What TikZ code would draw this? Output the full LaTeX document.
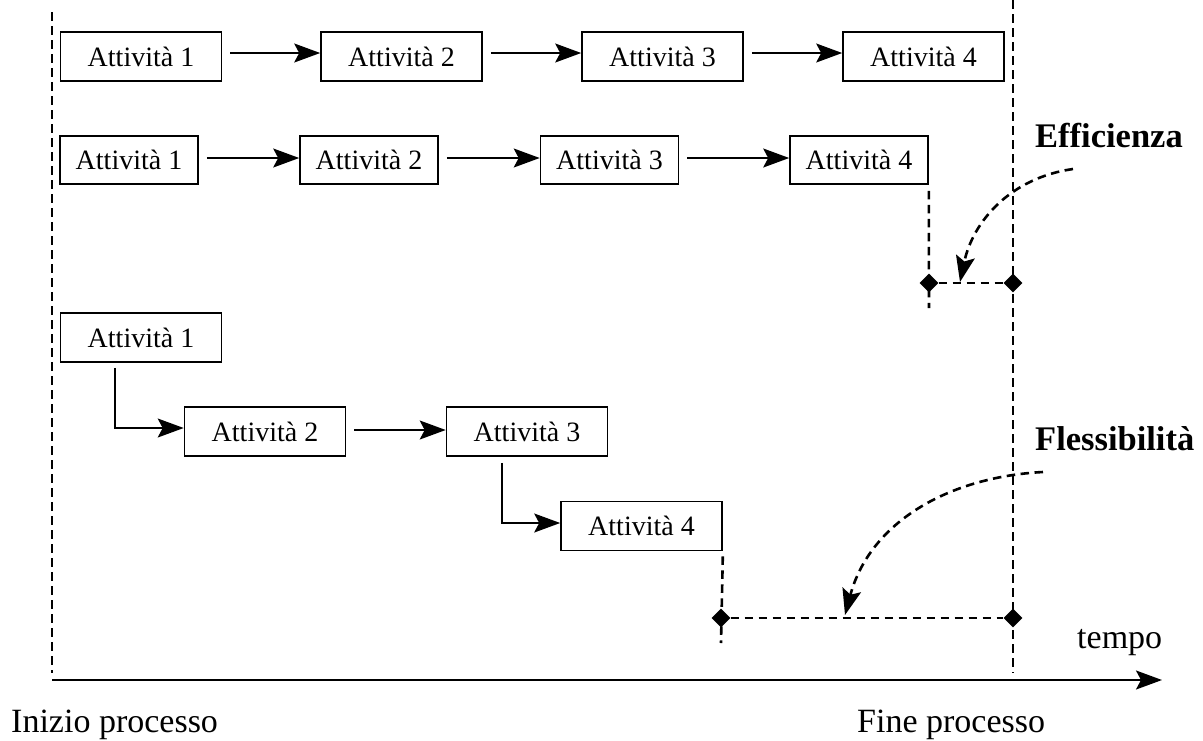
\documentclass[tikz,border=0pt]{standalone}
\usepackage{fontspec}
\setmainfont{Liberation Serif}
\usetikzlibrary{arrows.meta,shapes.geometric}
\begin{document}
\begin{tikzpicture}[x=1pt,y=-1pt,
  act/.style={draw, line width=1.6pt, inner sep=0pt, minimum height=49pt, font=\fontsize{28}{32}\selectfont},
  wide/.style={act, minimum width=161pt},
  narrow/.style={act, minimum width=138pt, minimum height=48pt},
  tip/.style={-{Stealth[length=26pt,width=19pt,inset=5pt]}},
  flow/.style={line width=1.6pt, tip},
  gap/.style={shorten <=8pt},
  dline/.style={line width=2.6pt, dash pattern=on 8.5pt off 5.5pt},
  dmd/.style={diamond, fill=black, inner sep=0pt, minimum size=19pt},
  lbl/.style={inner sep=0pt, anchor=base west, font=\fontsize{34}{40}\selectfont},
  blbl/.style={inner sep=0pt, anchor=base west, font=\fontsize{34.5}{40}\selectfont\bfseries}
]
\useasboundingbox (0,0) rectangle (1203,740);

% time boundaries
\coordinate (itop) at (52,12);
\coordinate (ibot) at (52,673);
\coordinate (ftop) at (1013,0);
\coordinate (fbot) at (1013,673);
\draw[dline] (itop) -- (ibot);
\draw[dline] (ftop) -- (fbot);

% time axis
\coordinate (ax0) at (52,680);
\coordinate (ax1) at (1162,680);
\draw[flow] (ax0) -- (ax1);
\node[lbl] (tempo) at (1077,648) {tempo};
\node[lbl] (inizio) at (11,732) {Inizio processo};
\node[lbl] (fine) at (857,732) {Fine processo};

% row 1
\node[wide] (r1a) at (141,56.5) {Attività 1};
\node[wide] (r1b) at (401.5,56.5) {Attività 2};
\node[wide] (r1c) at (662.5,56.5) {Attività 3};
\node[wide] (r1d) at (923.5,56.5) {Attività 4};
\draw[flow,gap] ([yshift=3.5pt]r1a.east) -- ([yshift=3.5pt]r1b.west);
\draw[flow,gap] ([yshift=3.5pt]r1b.east) -- ([yshift=3.5pt]r1c.west);
\draw[flow,gap] ([yshift=3.5pt]r1c.east) -- ([yshift=3.5pt]r1d.west);

% row 2
\node[narrow] (r2a) at (129,160) {Attività 1};
\node[narrow] (r2b) at (369,160) {Attività 2};
\node[narrow] (r2c) at (609.5,160) {Attività 3};
\node[narrow] (r2d) at (859,160) {Attività 4};
\draw[flow,gap] ([yshift=2pt]r2a.east) -- ([yshift=2pt]r2b.west);
\draw[flow,gap] ([yshift=2pt]r2b.east) -- ([yshift=2pt]r2c.west);
\draw[flow,gap] ([yshift=2pt]r2c.east) -- ([yshift=2pt]r2d.west);

% row 3
\node[wide] (r3a) at (141,337.5) {Attività 1};
\node[wide] (r3b) at (265,431.5) {Attività 2};
\node[wide] (r3c) at (527,431.5) {Attività 3};
\node[wide] (r3d) at (641.5,526) {Attività 4};
\draw[flow] ([xshift=-26pt,yshift=-5pt]r3a.south) |- ([yshift=3.5pt]r3b.west);
\draw[flow,gap] ([yshift=1.5pt]r3b.east) -- ([yshift=1.5pt]r3c.west);
\draw[flow] ([xshift=-25pt,yshift=-6pt]r3c.south) |- ([yshift=3pt]r3d.west);

% efficiency gap
\node[dmd] (d1) at (929,283) {};
\node[dmd] (d2) at (1013,283) {};
\coordinate (e1bot) at (929,308);
\draw[dline] ([yshift=-6pt]r2d.south east) -- (e1bot);
\draw[dline] (d1) -- (d2);
\node[blbl] (eff) at (1035,147) {Efficienza};
\coordinate (effs) at (1073,169);
\coordinate (efft) at (960,282);
\draw[dline, tip] (effs) to[out=188,in=78] (efft);

% flexibility gap
\node[dmd] (d3) at (721,618) {};
\node[dmd] (d4) at (1013,618) {};
\coordinate (f1bot) at (721,643);
\draw[dline] ([yshift=-5pt]r3d.south east) -- (f1bot);
\draw[dline] (d3) -- (d4);
\node[blbl] (fles) at (1035,450) {Flessibilità};
\coordinate (fls) at (1043,472);
\coordinate (flt) at (845,615);
\draw[dline, tip] (fls) to[out=183,in=75] (flt);
\end{tikzpicture}
\end{document}
